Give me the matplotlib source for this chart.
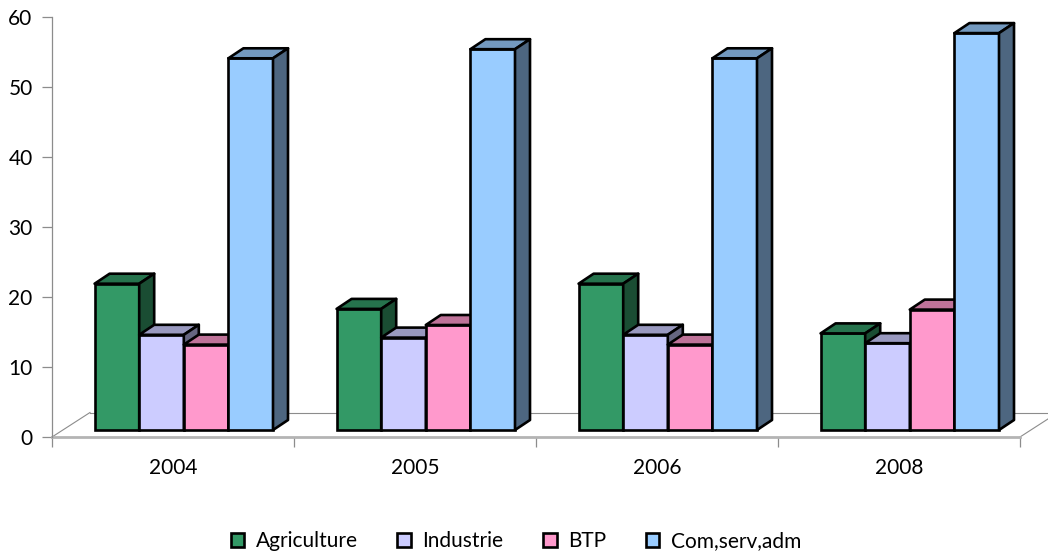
import matplotlib
matplotlib.use("Agg")
import matplotlib.pyplot as plt
from matplotlib.patches import Polygon, Patch
import numpy as np

# ---------------- data ----------------
years = ["2004", "2005", "2006", "2008"]
series = ["Agriculture", "Industrie", "BTP", "Com,serv,adm"]
agriculture = [20.9, 17.3, 20.9, 13.8]
industrie = [13.6, 13.2, 13.6, 12.4]
btp = [12.2, 15.0, 12.2, 17.2]
com_serv_adm = [53.1, 54.4, 53.1, 56.7]
y_ticks = [0, 10, 20, 30, 40, 50, 60]

colors = ["#339966", "#CCCCFF", "#FF99CC", "#99CCFF"]

plt.rcParams['font.family'] = ['Lato', 'DejaVu Sans']

W, H = 1048, 556
fig = plt.figure(figsize=(W / 100, H / 100), dpi=100)
ax_l, ax_r, ax_b, ax_t = 52, 1020, 437, 17
ax = fig.add_axes([ax_l / W, (H - ax_b) / H, (ax_r - ax_l) / W, (ax_b - ax_t) / H])
ax.set_xlim(-0.5, len(years) - 0.5)
ax.set_ylim(0, 60)

# pixel -> data conversions for oblique depth offsets
px_x = (len(years)) / (ax_r - ax_l)   # category units per pixel
px_y = 60 / (ax_b - ax_t)            # value units per pixel

floor_dx, floor_dy = 38 * px_x, 24.5 * px_y
front_dx, front_dy = 10.8 * px_x, 7 * px_y
depth_dx, depth_dy = 15 * px_x, 10 * px_y
bar_w = 44.6 * px_x
EDGE_LW = 1.9


def shade(c, f):
    r, g, b = matplotlib.colors.to_rgb(c)
    return (r * f, g * f, b * f)


# ---------------- floor ----------------
x0, x1 = -0.5, len(years) - 0.5
floor_kw = dict(color="#8c8c8c", lw=0.8, clip_on=False, zorder=1)
ax.plot([x0, x0 + floor_dx], [0, floor_dy], **floor_kw)
ax.plot([x1, x1 + floor_dx], [0, floor_dy], **floor_kw)
ax.plot([x0 + floor_dx, x1 + floor_dx], [floor_dy, floor_dy], **floor_kw)

# ---------------- bars ----------------
data = [agriculture, industrie, btp, com_serv_adm]
xs = np.arange(len(years))
n = len(series)
for j, (vals, col) in enumerate(zip(data, colors)):
    lefts = xs - n * bar_w / 2 + j * bar_w + front_dx
    ax.bar(lefts, vals, width=bar_w, bottom=front_dy, align="edge",
           color=col, edgecolor="black", linewidth=EDGE_LW, zorder=3 + j)
    for xl, v in zip(lefts, vals):
        xr = xl + bar_w
        yb = front_dy
        yt = front_dy + v
        top = Polygon([(xl, yt), (xr, yt), (xr + depth_dx, yt + depth_dy),
                       (xl + depth_dx, yt + depth_dy)], closed=True,
                      facecolor=shade(col, 0.75), edgecolor="black",
                      linewidth=EDGE_LW, joinstyle="round", zorder=3 + j + 0.1,
                      clip_on=False)
        side = Polygon([(xr, yb), (xr + depth_dx, yb + depth_dy),
                        (xr + depth_dx, yt + depth_dy), (xr, yt)], closed=True,
                       facecolor=shade(col, 0.5), edgecolor="black",
                       linewidth=EDGE_LW, joinstyle="round", zorder=3 + j + 0.2,
                       clip_on=False)
        ax.add_patch(top)
        ax.add_patch(side)

# ---------------- axes styling ----------------
for s in ["top", "right"]:
    ax.spines[s].set_visible(False)
ax.spines["left"].set_color("#8c8c8c")
ax.spines["left"].set_linewidth(0.9)
ax.spines["bottom"].set_color("#b4b4b4")
ax.spines["bottom"].set_linewidth(2.0)
ax.spines["bottom"].set_zorder(2)

ax.set_yticks(y_ticks)
ax.set_yticklabels([str(t) for t in y_ticks])
ax.tick_params(axis="y", length=7, width=0.9, color="#8c8c8c", pad=7,
               labelsize=15, labelcolor="black")

ax.set_xticks(xs)
ax.set_xticklabels(years)
ax.set_xticks(np.arange(len(years) + 1) - 0.5, minor=True)
ax.tick_params(axis="x", which="major", length=0, pad=15, labelsize=15,
               labelcolor="black")
ax.tick_params(axis="x", which="minor", length=7, width=0.9, color="#8c8c8c")

# ---------------- legend ----------------
handles = [Patch(facecolor=c, edgecolor="black", linewidth=EDGE_LW) for c in colors]
fig.legend(handles, series, loc="center", bbox_to_anchor=(516 / W, 1 - 541 / H),
           ncol=4, frameon=False, fontsize=15, handlelength=0.65,
           handleheight=0.65, handletextpad=0.55, columnspacing=1.9)

fig.savefig("out.png", dpi=100)
